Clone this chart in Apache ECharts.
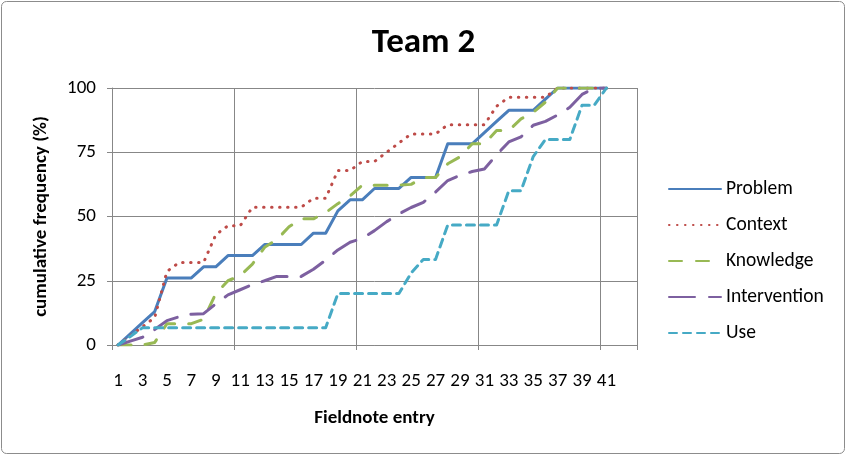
<!DOCTYPE html>
<html>
<head>
<meta charset="utf-8">
<script src="https://cdn.jsdelivr.net/npm/echarts@6/dist/echarts.min.js"></script>
<style>
  html, body { margin: 0; padding: 0; background: #fff; }
  #chart { width: 847px; height: 456px; }
</style>
</head>
<body>
<div id="chart"></div>
<script>
// fieldnote entries 1..43 (only 1..41 carry data, the last two slots are empty)
const entries = []
for (let i = 1; i <= 43; i++) entries.push(String(i))

// cumulative frequency (%) per series
const problem = [0, 4.3, 8.7, 13, 26.1, 26.1, 26.1, 30.4, 30.4, 34.8, 34.8, 34.8, 39.1, 39.1, 39.1, 39.1, 43.5, 43.5, 52.2, 56.5, 56.5, 60.9, 60.9, 60.9, 65.2, 65.2, 65.2, 78.3, 78.3, 78.3, 82.6, 87, 91.3, 91.3, 91.3, 95.7, 100, 100, 100, 100, 100]
const context = [0, 3.6, 7.1, 10.7, 28.6, 32.1, 32.1, 32.1, 42.9, 46.4, 46.4, 53.6, 53.6, 53.6, 53.6, 53.6, 57.1, 57.1, 67.9, 67.9, 71.4, 71.4, 75, 78.6, 82.1, 82.1, 82.1, 85.7, 85.7, 85.7, 85.7, 92.9, 96.4, 96.4, 96.4, 96.4, 100, 100, 100, 100, 100]
const knowledge = [0, 0, 0, 1, 8.3, 8.3, 8.3, 10, 20, 25, 27, 31.5, 38, 41, 46, 49.1, 49.1, 51.5, 55, 58, 62.2, 62.2, 62.2, 62.2, 62.5, 65.2, 65.2, 70.5, 73.2, 78.3, 78.3, 83.5, 83.5, 88, 90.5, 94.5, 100, 100, 100, 100, 100]
const intervention = [0, 1.5, 3, 6, 9.5, 11, 12, 12.2, 16, 19.5, 21.5, 23.5, 25, 26.7, 26.7, 26.7, 29.5, 33, 37, 40, 41.5, 44.5, 48, 51, 53.5, 55.5, 59.5, 64, 66, 67.5, 68.5, 74, 79, 81, 85.5, 87, 89.5, 92.5, 97.5, 100, 100]
const use = [0, 3.3, 6.7, 6.7, 6.7, 6.7, 6.7, 6.7, 6.7, 6.7, 6.7, 6.7, 6.7, 6.7, 6.7, 6.7, 6.7, 6.7, 20, 20, 20, 20, 20, 20, 28, 33.3, 33.3, 46.7, 46.7, 46.7, 46.7, 46.7, 60, 60, 73.3, 80, 80, 80, 93.3, 93.3, 100]

const yTicks = [0, 25, 50, 75, 100]

const font = 'Carlito, Calibri, Lato, sans-serif'
const gridGray = '#878787'

const chart = echarts.init(document.getElementById('chart'))

function lineSeries (name, data, color, dash) {
  return {
    name: name,
    type: 'line',
    data: data,
    symbol: 'none',
    animation: false,
    lineStyle: { color: color, width: 3, type: dash, cap: 'round', join: 'round' },
    itemStyle: { color: color }
  }
}

const option = {
  backgroundColor: '#fff',
  textStyle: { fontFamily: font },
  title: {
    text: 'Team 2',
    left: 'center',
    top: 21,
    textStyle: { fontFamily: font, fontSize: 35, fontWeight: 'bold', color: '#000' }
  },
  graphic: [{
    type: 'rect',
    shape: { x: 1.5, y: 1.5, width: 843, height: 452, r: 5 },
    style: { fill: 'none', stroke: '#8c8c8c', lineWidth: 1 },
    silent: true
  }],
  legend: {
    orient: 'vertical',
    left: 663,
    top: 174,
    itemWidth: 52,
    itemHeight: 14,
    itemGap: 16,
    itemStyle: { opacity: 0 },
    textStyle: { fontFamily: font, fontSize: 19.5, color: '#000' },
    data: ['Problem', 'Context', 'Knowledge', 'Intervention', 'Use']
  },
  grid: { left: 112, right: 210, top: 88, bottom: 111, containLabel: false },
  xAxis: {
    type: 'category',
    data: entries,
    boundaryGap: true,
    name: 'Fieldnote entry',
    nameLocation: 'middle',
    nameGap: 64,
    nameTextStyle: { fontFamily: font, fontSize: 19, fontWeight: 'bold', color: '#000' },
    axisLine: { lineStyle: { color: gridGray, width: 1 } },
    axisTick: {
      show: true,
      length: 5,
      interval: function (i) { return i % 10 === 0 },
      lineStyle: { color: gridGray }
    },
    axisLabel: {
      interval: function (i) { return i % 2 === 0 && i <= 40 },
      margin: 27,
      fontFamily: font,
      fontSize: 19,
      color: '#000'
    },
    splitLine: {
      show: true,
      interval: function (i) { return i % 10 === 0 },
      lineStyle: { color: gridGray, width: 1 }
    }
  },
  yAxis: {
    type: 'value',
    min: yTicks[0],
    max: yTicks[yTicks.length - 1],
    interval: 25,
    name: 'cumulative frequency (%)',
    nameLocation: 'middle',
    nameGap: 61,
    nameTextStyle: { fontFamily: font, fontSize: 19, fontWeight: 'bold', color: '#000' },
    axisLine: { show: true, lineStyle: { color: gridGray, width: 1 } },
    axisTick: { show: true, length: 5, lineStyle: { color: gridGray } },
    axisLabel: { margin: 16, fontFamily: font, fontSize: 19, color: '#000' },
    splitLine: { show: true, lineStyle: { color: gridGray, width: 1 } }
  },
  series: [
    lineSeries('Problem', problem, '#4a7ebb', 'solid'),
    lineSeries('Context', context, '#be4b48', [0.5, 7.5]),
    lineSeries('Knowledge', knowledge, '#98b954', [13, 14]),
    lineSeries('Intervention', intervention, '#7d60a0', [26, 14]),
    lineSeries('Use', use, '#46aac5', [8, 6])
  ]
}

chart.setOption(option)
</script>
</body>
</html>
